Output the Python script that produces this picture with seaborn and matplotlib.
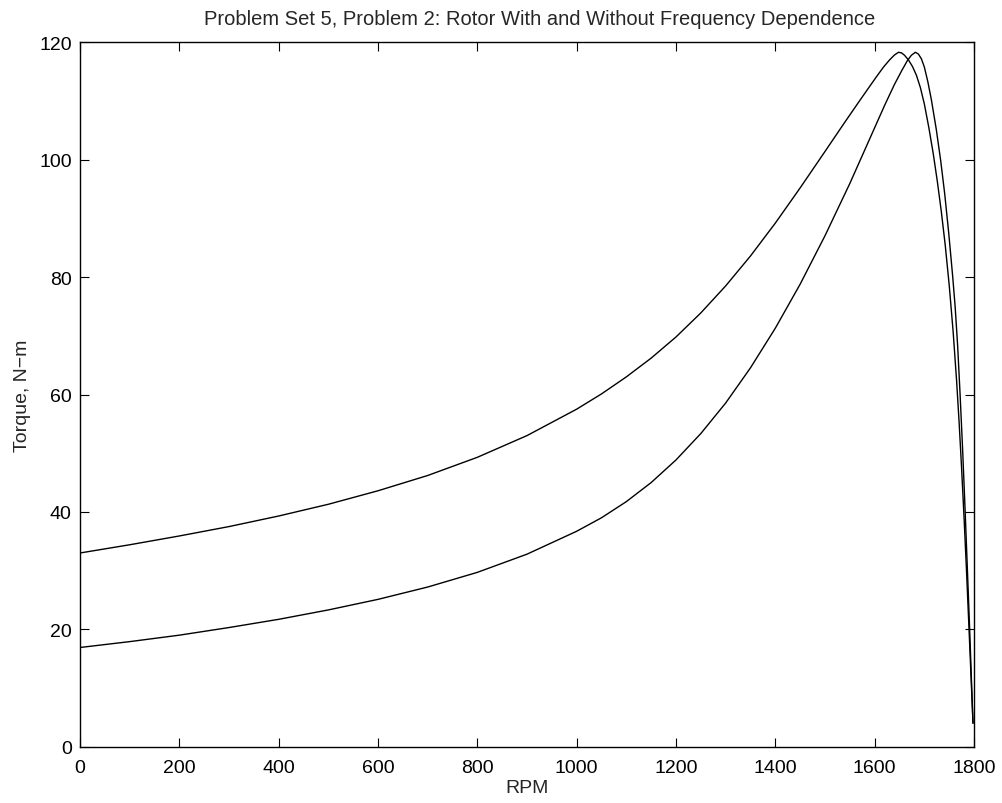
import pandas as pd
import matplotlib
matplotlib.use("Agg")
import matplotlib.pyplot as plt
import seaborn as sns

# === Data (RPM vs torque, N-m) ===
# rotor without frequency dependence (peak near 1648 rpm)
rpm_fixed = [0, 100, 200, 300, 400, 500, 600, 700, 800, 900, 1000, 1050,
             1100, 1150, 1200, 1250, 1300, 1350, 1400, 1450, 1500, 1540,
             1571, 1590, 1605, 1618, 1630, 1640, 1648, 1654, 1660, 1668,
             1676, 1684, 1692, 1700, 1709, 1718, 1726, 1734, 1742, 1750,
             1758, 1765, 1770, 1775, 1780, 1785, 1790, 1794, 1798]
torque_fixed = [33.0, 34.4, 35.9, 37.5, 39.3, 41.3, 43.6, 46.2, 49.3, 53.0,
                57.5, 60.1, 63.0, 66.2, 69.8, 73.9, 78.5, 83.6, 89.2, 95.2,
                101.4, 106.4, 110.2, 112.5, 114.3, 115.8, 117.0, 117.85,
                118.3, 118.2, 117.8, 117.0, 115.9, 114.4, 112.3, 109.5,
                105.5, 101.0, 96.4, 91.3, 85.5, 78.7, 70.7, 62.3, 55.3, 47.5,
                39.0, 29.8, 20.0, 12.0, 4.0]

# rotor with frequency dependence (peak near 1682 rpm)
rpm_freq = [0, 100, 200, 300, 400, 500, 600, 700, 800, 900, 1000, 1050,
            1100, 1150, 1200, 1250, 1300, 1350, 1400, 1450, 1500, 1550,
            1600, 1620, 1640, 1655, 1666, 1674, 1682, 1688, 1694, 1700,
            1707, 1714, 1724, 1733, 1741, 1749, 1757, 1762, 1767, 1772,
            1777, 1782, 1787, 1791, 1795, 1798]
torque_freq = [16.9, 17.9, 19.0, 20.3, 21.7, 23.3, 25.1, 27.2, 29.7, 32.8,
               36.7, 39.0, 41.75, 45.0, 48.85, 53.35, 58.55, 64.55, 71.3,
               78.8, 87.05, 95.95, 105.45, 109.25, 112.85, 115.25, 116.9,
               117.8, 118.3, 118.0, 117.2, 115.8, 113.3, 110.3, 105.2, 99.8,
               94.2, 87.6, 80.2, 75.0, 68.4, 60.0, 50.8, 40.5, 29.5, 20.6,
               11.0, 4.0]

x_ticks = list(range(0, 1801, 200))
y_ticks = list(range(0, 121, 20))

df_fixed = pd.DataFrame({"RPM": rpm_fixed, "Torque": torque_fixed})
df_freq = pd.DataFrame({"RPM": rpm_freq, "Torque": torque_freq})

# === Style: MATLAB-like box axes ===
sns.set_style("ticks")
plt.rcParams['font.family'] = ['Liberation Sans', 'DejaVu Sans']

fig = plt.figure(figsize=(10.02, 8.04), dpi=100)
ax = fig.add_axes([80 / 1002, 56.3 / 804, 894 / 1002, 704.4 / 804])

sns.lineplot(data=df_fixed, x="RPM", y="Torque", ax=ax, color="black",
             linewidth=1.0, sort=False, estimator=None)
sns.lineplot(data=df_freq, x="RPM", y="Torque", ax=ax, color="black",
             linewidth=1.0, sort=False, estimator=None)

ax.set_xlim(0, 1800)
ax.set_ylim(0, 120)
ax.set_xticks(x_ticks)
ax.set_yticks(y_ticks)
ax.tick_params(axis='both', which='both', direction='in', length=6.5,
               width=0.8, labelsize=14, top=True, right=True,
               color='black', labelcolor='black')
ax.tick_params(axis='x', pad=9)
ax.tick_params(axis='y', pad=6)
for side in ['top', 'right', 'left', 'bottom']:
    ax.spines[side].set_visible(True)
    ax.spines[side].set_color('black')
    ax.spines[side].set_linewidth(1.0)

ax.set_title("Problem Set 5, Problem 2: Rotor With and Without Frequency Dependence",
             fontsize=14.5, pad=13, x=0.514)
ax.set_xlabel("RPM", fontsize=14, labelpad=2)
ax.set_ylabel("Torque, N\u2212m", fontsize=14, labelpad=6)

fig.savefig("out.png", dpi=100, facecolor="white")
